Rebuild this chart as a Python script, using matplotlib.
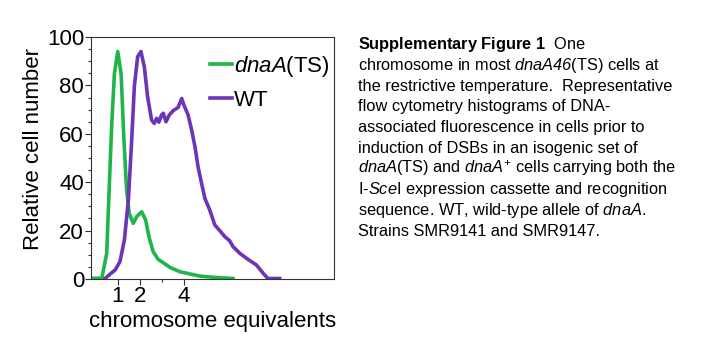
import matplotlib
matplotlib.use('Agg')
import matplotlib.pyplot as plt
from matplotlib.ticker import FixedLocator, MultipleLocator

plt.rcParams['font.family'] = ['Liberation Sans', 'DejaVu Sans']
plt.rcParams['mathtext.fontset'] = 'custom'
plt.rcParams['mathtext.rm'] = 'Liberation Sans'
plt.rcParams['mathtext.it'] = 'Liberation Sans:italic'
plt.rcParams['mathtext.sf'] = 'Liberation Sans:italic'
plt.rcParams['mathtext.bf'] = 'Liberation Sans:bold'

# flow cytometry histograms, x in chromosome equivalents
ts_x = [-0.15, 0.1, 0.29, 0.51, 0.62, 0.74, 0.86, 1.01, 1.16, 1.29, 1.41,
        1.53, 1.71, 1.87, 2.09, 2.27, 2.42, 2.61, 2.84, 3.07, 3.37, 3.82,
        4.72, 5.32, 6.22]
ts_y = [0.3, 0.3, 0.3, 10.6, 36.8, 64.3, 85, 94, 85, 57.4, 36.8,
        27.1, 23, 25.8, 27.8, 24.4, 17.5, 11.3, 8.1, 6.7, 4.8, 3.0,
        1.2, 0.7, 0.2]

wt_x = [0.44, 0.66, 0.89, 1.11, 1.31, 1.49, 1.64, 1.76, 1.91, 2.06, 2.21,
        2.36, 2.54, 2.66, 2.77, 2.87, 2.99, 3.07, 3.19, 3.34, 3.52, 3.74,
        3.9, 4.0, 4.19, 4.35, 4.5, 4.64, 4.8, 4.95, 5.17, 5.4, 5.62, 5.85,
        6.07, 6.22, 6.53, 6.9, 7.28, 7.58, 7.8, 8.33]
wt_y = [0.2, 2.0, 3.7, 7.2, 16.1, 32.6, 57.4, 79.5, 91.9, 94, 87.7,
        75.3, 65.7, 64.3, 66.4, 64.8, 67.8, 68.5, 65, 67.8, 69.6, 70.9,
        74.6, 71.9, 67.8, 61.6, 54.7, 46.4, 39.5, 33.3, 28.5, 22.3, 20, 17.5,
        15.8, 13.4, 10.6, 8.1, 5.8, 2.4, 0.2, 0.2]

green = '#1fb54a'
purple = '#6b35b8'

caption = [
    r'$\mathbf{Supplementary\ Figure\ 1}$  One',
    r'chromosome in most $\mathsf{dnaA46}$(TS) cells at',
    'the restrictive temperature.  Representative',
    'flow cytometry histograms of DNA-',
    'associated fluorescence in cells prior to',
    'induction of DSBs in an isogenic set of',
    r'$\mathit{dnaA}$(TS) and $\mathit{dnaA}^{+}$ cells carrying both the',
    r'I-$\mathit{Sce}$I expression cassette and recognition',
    r'sequence. WT, wild-type allele of $\mathit{dnaA}$.',
    'Strains SMR9141 and SMR9147.',
]

fig = plt.figure(figsize=(7.12, 3.43), dpi=100)
ax = fig.add_axes([0.1278, 0.1866, 0.3417, 0.7055])

ax.plot(ts_x, ts_y, color=green, lw=2.6, solid_joinstyle='round',
        label=r'$\mathit{dnaA}$(TS)')
ax.plot(wt_x, wt_y, color=purple, lw=2.6, solid_joinstyle='round',
        label='WT')

ax.set_xlim(-0.2, 10.8)
ax.set_ylim(0, 100)

for s in ax.spines.values():
    s.set_color('#333333')
    s.set_linewidth(0.8)

ax.xaxis.set_major_locator(FixedLocator([1, 2, 4]))
ax.xaxis.set_minor_locator(FixedLocator([3]))
ax.yaxis.set_major_locator(MultipleLocator(20))
ax.yaxis.set_minor_locator(MultipleLocator(5))
ax.tick_params(axis='both', which='major', labelsize=16, length=4,
               width=0.8, color='#333333', pad=1)
ax.tick_params(axis='both', which='minor', length=2, width=0.8,
               color='#333333')
ax.tick_params(top=False, right=False, which='both')

ax.set_xlabel('chromosome equivalents', fontsize=16, labelpad=3)
ax.set_ylabel('Relative cell number', fontsize=16)
ax.yaxis.set_label_coords(-0.195, 0.537)

leg = ax.legend(loc='upper left', bbox_to_anchor=(0.49, 0.93), frameon=False,
                fontsize=16, handlelength=1.0, handletextpad=0.05,
                labelspacing=0.5, borderpad=0, borderaxespad=0)

# caption block to the right of the plot
y0 = 49.3
for i, line in enumerate(caption):
    fig.text(358 / 712, 1 - (y0 + i * 20.7) / 343, line, fontsize=11.8,
             va='baseline', ha='left')

fig.savefig('out.png', dpi=100)
